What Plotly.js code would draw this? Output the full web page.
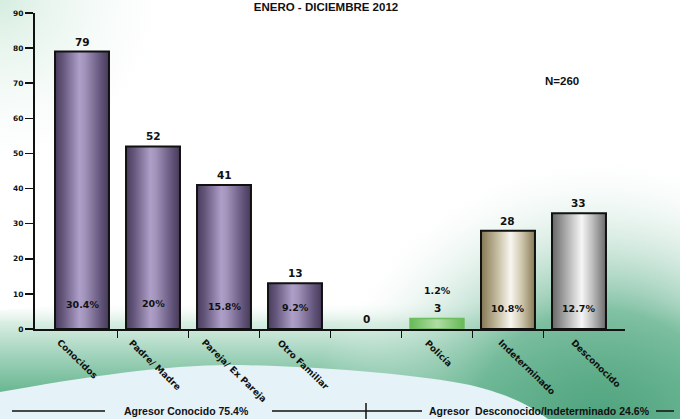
<!DOCTYPE html>
<html><head><meta charset="utf-8">
<script src="https://cdn.plot.ly/plotly-3.0.1.min.js"></script>
<style>
html,body{margin:0;padding:0;background:#fff;}
#wrap{position:relative;width:680px;height:419px;overflow:hidden;}
#bg{position:absolute;left:0;top:0;}
#chart{position:absolute;left:0;top:0;width:680px;height:419px;}
</style></head><body>
<div id="wrap">
<svg id="bg" width="680" height="419" xmlns="http://www.w3.org/2000/svg">
<defs>
<radialGradient id="tl" cx="0" cy="0" r="190" gradientUnits="userSpaceOnUse">
<stop offset="0" stop-color="#d6ede0"/><stop offset="1" stop-color="#ffffff" stop-opacity="0"/>
</radialGradient>
<linearGradient id="band" x1="0" y1="300" x2="0" y2="390" gradientUnits="userSpaceOnUse">
<stop offset="0" stop-color="#ffffff" stop-opacity="0"/><stop offset="0.25" stop-color="#d9eee3"/><stop offset="0.6" stop-color="#a3d4bd"/><stop offset="1" stop-color="#6cb894"/>
</linearGradient>
<radialGradient id="dark" cx="600" cy="440" r="290" gradientUnits="userSpaceOnUse">
<stop offset="0" stop-color="#4a9f7a"/><stop offset="0.45" stop-color="#6db795" stop-opacity="0.85"/><stop offset="1" stop-color="#ffffff" stop-opacity="0"/>
</radialGradient>
</defs>
<rect x="0" y="0" width="680" height="419" fill="#ffffff"/>
<rect x="0" y="0" width="680" height="419" fill="url(#tl)"/>
<path d="M0,310 C200,298 450,265 680,228 L680,419 L0,419 Z" fill="url(#band)"/>
<rect x="0" y="0" width="680" height="419" fill="url(#dark)"/>
<path d="M0,392 C90,376 170,364 240,365 C330,367 420,375 470,385 C510,395 530,405 548,419 L0,419 Z" fill="#e5f2f8"/>
</svg>
<div id="chart"></div>
</div>
<script>
// ---- data ----
const categories = ['Conocidos','Padre/ Madre','Pareja/ Ex Pareja','Otro Familiar','','Policía','Indeterminado','Desconocido'];
const counts = [79, 52, 41, 13, 0, 3, 28, 33];
const percents = ['30.4%','20%','15.8%','9.2%','','1.2%','10.8%','12.7%'];
const groupLabels = ['Agresor Conocido 75.4%', 'Agresor\u00a0 Desconocido/Indeterminado 24.6%'];
const totalLabel = 'N=260';
const titleText = 'ENERO - DICIEMBRE 2012';

// ---- styles / layout helpers ----
const barStyle = ['purple','purple','purple','purple','purple','green','tan','gray'];
const scales = {
  purple: [[0,'#483c5b'],[0.15,'#65577c'],[0.45,'#ad9fc8'],[0.55,'#a394bc'],[0.85,'#62547a'],[1,'#463a58']],
  green:  [[0,'#66b955'],[0.5,'#b2dca5'],[1,'#66b955']],
  tan:    [[0,'#857852'],[0.3,'#c4bca0'],[0.55,'#f8f6f0'],[0.75,'#cfc8b0'],[1,'#877a54']],
  gray:   [[0,'#676767'],[0.3,'#b5b5b5'],[0.55,'#f6f6f6'],[0.75,'#bdbdbd'],[1,'#6b6b6b']]
};
const lineCol = {purple:'#111', green:'#6cbd5d', tan:'#111', gray:'#111'};
const pctY = [7.1, 7.4, 6.5, 6.0, 0, 11.1, 5.7, 5.7];
const labelShift = [-30, -29, -27, -22, 0, -17, -15, -12];
const halfW = 0.38;

const W = 680, H = 419, M = {l:35, r:55, t:13, b:90};
const px = x => (x - M.l) / (W - M.l - M.r);
const py = y => (H - M.b - y) / (H - M.t - M.b);

const traces = [];
counts.forEach((v, i) => {
  if (v <= 0) return;
  const s = barStyle[i];
  traces.push({
    type: 'scatter', mode: 'lines', fill: 'toself',
    x: [i - halfW, i - halfW, i + halfW, i + halfW, i - halfW],
    y: [0, v, v, 0, 0],
    fillgradient: {type: 'horizontal', colorscale: scales[s]},
    line: {color: lineCol[s], width: s === 'green' ? 1.5 : 2},
    hoverinfo: 'skip', showlegend: false, cliponaxis: false
  });
});

const valFont = {family: 'DejaVu Sans', size: 10.5, color: '#111'};
const annotations = [];
counts.forEach((v, i) => {
  annotations.push({x: i, y: v, xref: 'x', yref: 'y', text: '<b>' + v + '</b>',
    showarrow: false, xanchor: 'center', yanchor: 'bottom', yshift: 2, font: valFont});
  if (percents[i]) annotations.push({x: i, y: pctY[i], xref: 'x', yref: 'y',
    text: '<b>' + percents[i] + '</b>', showarrow: false, xanchor: 'center', yanchor: 'middle',
    font: {family: 'DejaVu Sans', size: 9.5, color: '#111'}});
  if (categories[i]) annotations.push({x: i, y: 0, xref: 'x', yref: 'y',
    text: '<b>' + categories[i] + '</b>', showarrow: false, textangle: 44,
    xanchor: 'left', yanchor: 'top', xshift: labelShift[i], yshift: -6,
    font: {family: 'DejaVu Sans', size: 9, color: '#111'}});
});
const paperText = (x, y, text, size) => ({xref: 'paper', yref: 'paper', x: px(x), y: py(y),
  text: '<b>' + text + '</b>', showarrow: false, xanchor: 'center', yanchor: 'middle',
  font: {family: 'Liberation Sans', size: size, color: '#111'}});
annotations.push(paperText(562, 81, totalLabel, 11.5));
annotations.push(paperText(186, 411, groupLabels[0], 10.5));
annotations.push(paperText(539, 411, groupLabels[1], 10.5));

const ln = (x0, y0, x1, y1, w) => ({type: 'line', xref: 'paper', yref: 'paper',
  x0: px(x0), y0: py(y0), x1: px(x1), y1: py(y1), line: {color: '#111', width: w}});
const shapes = [
  ln(12, 411, 105, 411, 1.5),
  ln(272, 411, 422, 411, 1.5),
  ln(366, 403, 366, 419, 1.5),
  ln(656, 411, 674, 411, 1.5)
];

const layout = {
  width: W, height: H, margin: {l: M.l, r: M.r, t: M.t, b: M.b, pad: 0},
  paper_bgcolor: 'rgba(0,0,0,0)', plot_bgcolor: 'rgba(0,0,0,0)',
  showlegend: false,
  title: {text: '<b>' + titleText + '</b>', x: 326 / W, xanchor: 'center', xref: 'container',
    y: 1 - 7 / H, yanchor: 'middle', yref: 'container',
    font: {family: 'Liberation Sans', size: 11.5, color: '#111'}},
  xaxis: {range: [-0.662, 7.648], showgrid: false, zeroline: false, showline: true,
    linecolor: '#111', linewidth: 1.5, tickmode: 'array',
    tickvals: categories.slice(1).map((_, i) => i + 0.5),
    ticks: 'outside', ticklen: 7, tickwidth: 1.5, tickcolor: '#111', showticklabels: false,
    fixedrange: true},
  yaxis: {range: [0, 90], tick0: 0, dtick: 10, showgrid: false, zeroline: false, showline: true,
    linecolor: '#111', linewidth: 2, ticks: 'outside', ticklen: 8, tickwidth: 1.5, tickcolor: '#111',
    tickfont: {family: 'DejaVu Sans', size: 7.5, color: '#111', weight: 'bold'}, fixedrange: true},
  annotations: annotations, shapes: shapes
};

Plotly.newPlot('chart', traces, layout, {displayModeBar: false, staticPlot: true});
</script>
</body></html>
